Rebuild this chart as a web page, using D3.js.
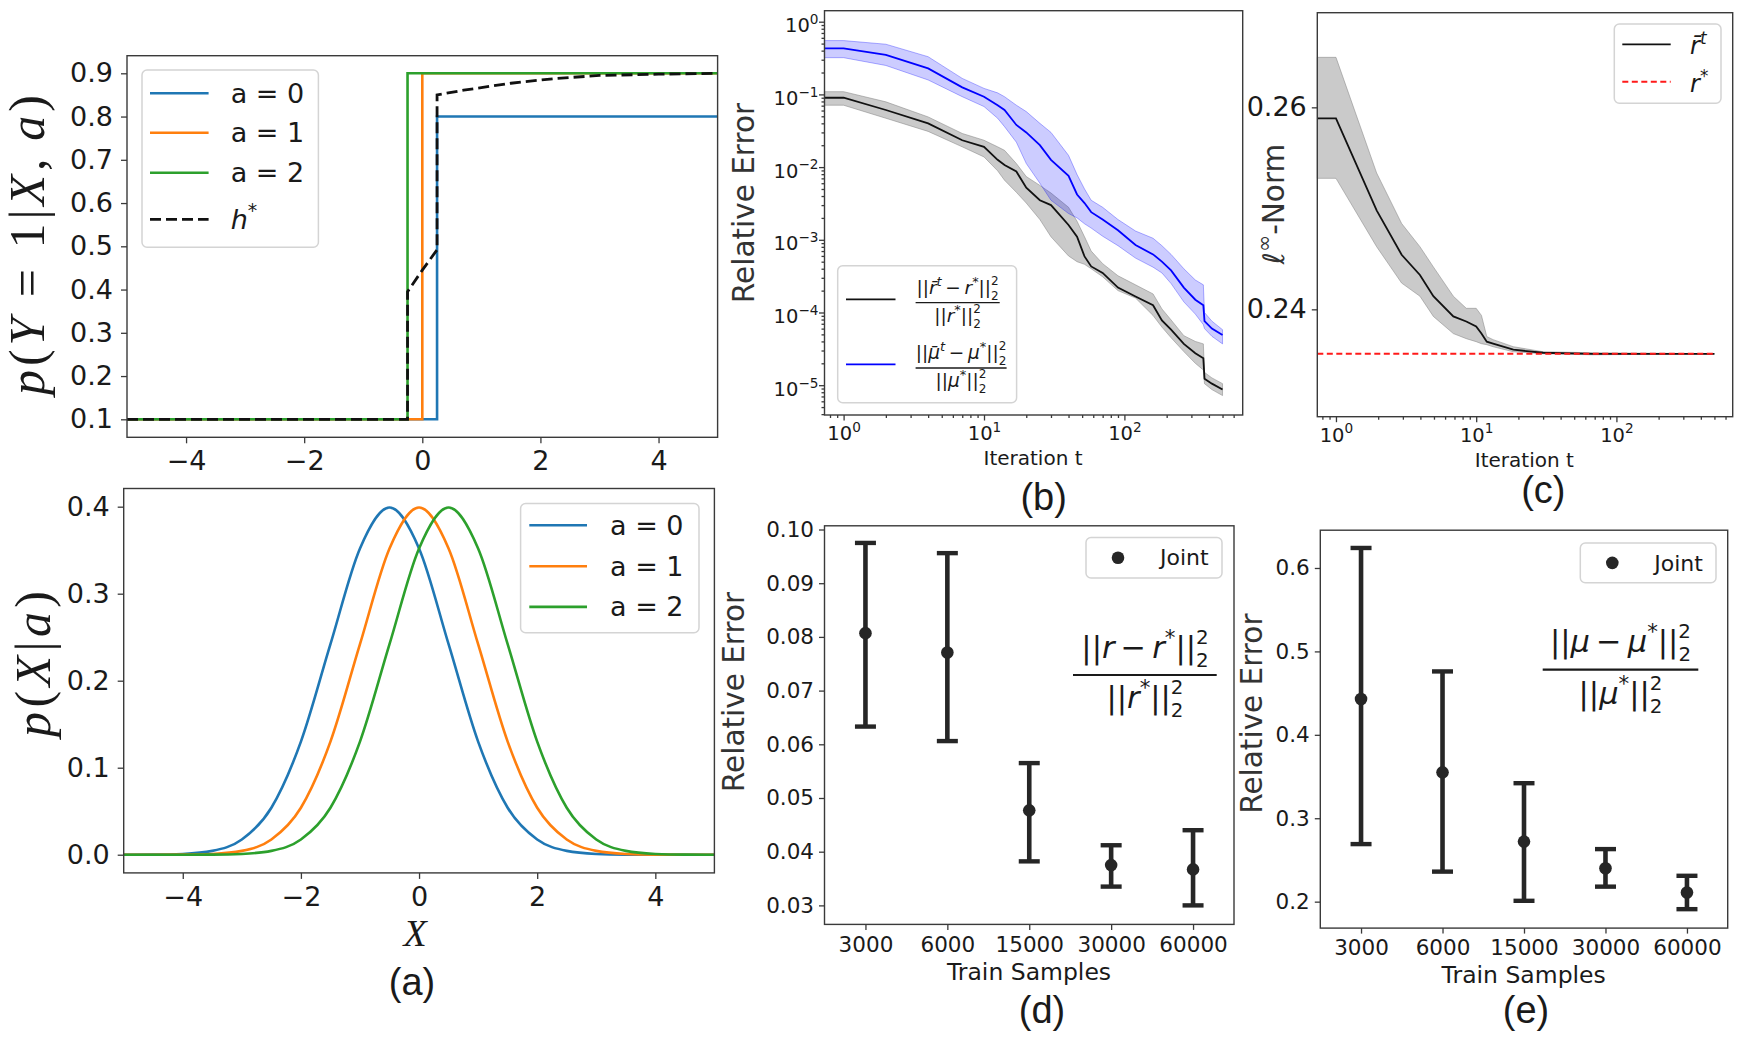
<!DOCTYPE html>
<html>
<head>
<meta charset="utf-8">
<script src="https://cdn.jsdelivr.net/npm/d3@7"></script>
<style>body{margin:0;background:#fff}</style>
</head>
<body>
<svg id="fig" width="1741" height="1052"></svg>
<script>
// ---- data ----
// (a) top: conditional p(Y=1|X,a) per group, and h*
var condA0 = [[-5, 0.1], [0.25, 0.1], [0.25, 0.8], [5, 0.8]];
var condA1 = [[-5, 0.1], [0, 0.1], [0, 0.9], [5, 0.9]];
var condA2 = [[-5, 0.1], [-0.25, 0.1], [-0.25, 0.9], [5, 0.9]];
var hStar = [[-5, 0.1], [-0.25, 0.1], [-0.25, 0.395], [0, 0.445], [0.25, 0.492], [0.25, 0.85],
             [0.7, 0.861], [1.5, 0.877], [2.25, 0.888], [3, 0.895], [4, 0.898], [5, 0.9]];

// (a) bottom: p(X|a)
var gaussX = [-5, -4.5, -4, -3.5, -3, -2.5, -2, -1.5, -1, -0.5, 0, 0.5, 1, 1.5, 2, 2.5, 3, 3.5, 4, 4.5, 5];
var densA0 = [0, 0.0001, 0.0009, 0.0044, 0.0175, 0.054, 0.130, 0.242, 0.352, 0.399, 0.352, 0.242, 0.130, 0.054, 0.0175, 0.0044, 0.0009, 0.0001, 0, 0, 0];
var densA1 = [0, 0, 0.0001, 0.0009, 0.0044, 0.0175, 0.054, 0.130, 0.242, 0.352, 0.399, 0.352, 0.242, 0.130, 0.054, 0.0175, 0.0044, 0.0009, 0.0001, 0, 0];
var densA2 = [0, 0, 0, 0.0001, 0.0009, 0.0044, 0.0175, 0.054, 0.130, 0.242, 0.352, 0.399, 0.352, 0.242, 0.130, 0.054, 0.0175, 0.0044, 0.0009, 0.0001, 0];

// (b) relative error vs iteration
var iterB = [0.73, 1, 2, 4, 7, 10, 12.5, 14, 17, 20, 25, 30, 40, 46, 52, 58, 70, 90, 120, 160, 185, 215, 265, 320, 365, 372, 420, 500];
var rErr = [0.09, 0.09, 0.061, 0.040, 0.0234, 0.019, 0.0126, 0.0107, 0.0087, 0.0052, 0.0035, 0.0030, 0.0016, 0.0011, 0.00059, 0.00043, 0.00035, 0.00022, 0.000166, 0.000126, 0.000078, 0.000058, 0.000037, 0.0000275, 0.0000234, 0.0000123, 0.0000105, 0.0000087];
var rErrHi = [0.109, 0.109, 0.079, 0.049, 0.029, 0.0234, 0.019, 0.017, 0.0112, 0.0074, 0.0056, 0.0044, 0.0028, 0.0018, 0.0011, 0.0007, 0.00047, 0.00032, 0.00024, 0.00018, 0.000112, 0.000079, 0.000048, 0.00004, 0.000037, 0.000015, 0.0000126, 0.0000105];
var rErrLo = [0.071, 0.071, 0.047, 0.031, 0.019, 0.0138, 0.0089, 0.0066, 0.0045, 0.0032, 0.0019, 0.0011, 0.0006, 0.0005, 0.00046, 0.0004, 0.00031, 0.0002, 0.000158, 0.000091, 0.000063, 0.000045, 0.000029, 0.00002, 0.0000162, 0.0000105, 0.0000087, 0.0000072];
var muErr = [0.43, 0.43, 0.35, 0.228, 0.125, 0.093, 0.071, 0.061, 0.038, 0.030, 0.020, 0.0126, 0.0076, 0.0042, 0.0032, 0.0024, 0.0019, 0.00135, 0.00085, 0.00063, 0.0005, 0.00038, 0.00022, 0.00015, 0.000126, 0.000076, 0.00006, 0.000049];
var muErrHi = [0.55, 0.55, 0.49, 0.33, 0.166, 0.121, 0.105, 0.093, 0.071, 0.058, 0.040, 0.030, 0.0145, 0.0079, 0.0050, 0.0035, 0.0028, 0.0019, 0.00132, 0.00105, 0.00083, 0.00063, 0.0004, 0.00028, 0.00024, 0.0001, 0.000076, 0.000058];
var muErrLo = [0.32, 0.32, 0.25, 0.158, 0.093, 0.068, 0.047, 0.036, 0.022, 0.0112, 0.006, 0.0035, 0.0023, 0.002, 0.00166, 0.00145, 0.00112, 0.00083, 0.00056, 0.00042, 0.00035, 0.00025, 0.00014, 0.000095, 0.000068, 0.00006, 0.000047, 0.000037];

// (c) l-inf norm vs iteration
var iterC = [0.736, 1, 1.95, 2.94, 3.97, 4.95, 6.87, 8.5, 10, 10.9, 11.9, 13.2, 18.4, 30, 68, 500];
var rNorm = [0.2589, 0.2589, 0.2498, 0.2454, 0.2434, 0.2413, 0.2393, 0.2388, 0.2383, 0.2376, 0.2368, 0.2366, 0.2360, 0.2357, 0.2356, 0.2356];
var rNormHi = [0.26495, 0.26495, 0.2535, 0.2485, 0.2462, 0.2442, 0.2413, 0.2401, 0.2401, 0.2394, 0.2373, 0.2370, 0.2363, 0.2358, 0.2357, 0.2356];
var rNormLo = [0.25297, 0.25297, 0.2462, 0.2426, 0.2413, 0.2393, 0.2376, 0.2371, 0.2368, 0.2366, 0.2365, 0.2363, 0.2358, 0.2356, 0.2355, 0.2356];
var rStar = 0.23561;

// (d), (e) error bars vs training samples
var trainSamples = ["3000", "6000", "15000", "30000", "60000"];
var errR = [0.0807, 0.0771, 0.0477, 0.0375, 0.0367];
var errRLo = [0.0633, 0.0606, 0.0382, 0.0335, 0.0300];
var errRHi = [0.0975, 0.0956, 0.0565, 0.0412, 0.0440];
var errMu = [0.443, 0.355, 0.272, 0.240, 0.211];
var errMuLo = [0.269, 0.236, 0.201, 0.218, 0.191];
var errMuHi = [0.624, 0.476, 0.342, 0.263, 0.231];

// tick values
var ticksX_a = [-4, -2, 0, 2, 4];
var ticksY_a1 = [0.1, 0.2, 0.3, 0.4, 0.5, 0.6, 0.7, 0.8, 0.9];
var ticksY_a2 = [0.0, 0.1, 0.2, 0.3, 0.4];
var ticksLogX = [1, 10, 100];
var ticksLogY = [1, 1e-1, 1e-2, 1e-3, 1e-4, 1e-5];
var ticksY_c = [0.24, 0.26];
var ticksY_d = [0.03, 0.04, 0.05, 0.06, 0.07, 0.08, 0.09, 0.10];
var ticksY_e = [0.2, 0.3, 0.4, 0.5, 0.6];

// ---- layout ----
var SANS = "DejaVu Sans, sans-serif",
    SERIF = "Liberation Serif, serif",
    ARIAL = "Liberation Sans, Arial, sans-serif",
    AX = "#3a3a3a",
    INK = "#1a1a1a";
var C0 = "#1f77b4", C1 = "#ff7f0e", C2 = "#2ca02c";

var boxA1 = {l: 127, r: 717.6, t: 55.7, b: 437.3},
    boxA2 = {l: 123.7, r: 714.4, t: 488.5, b: 872.9},
    boxB = {l: 824.5, r: 1242.7, t: 10.7, b: 415},
    boxC = {l: 1317.3, r: 1732.7, t: 12.7, b: 416.7},
    boxD = {l: 824.5, r: 1234, t: 525.8, b: 924.4},
    boxE = {l: 1320.3, r: 1727.7, t: 530.2, b: 928.1};

var svg = d3.select("#fig");

// ---- helpers ----
// tiny mathtext: plain / italic runs, superscripts, stacked sup+sub
function mathRun(t, segs, size) {
  var cur = 0;
  segs.forEach(function(sg) {
    var parts;
    if (sg.ss) parts = [{t: sg.ss[0], off: -0.47, fs: 0.65}, {t: sg.ss[1], off: 0.3, fs: 0.65, back: true}];
    else if (sg.sup !== undefined) parts = [{t: sg.sup, off: -0.42, fs: 0.7, it: sg.i}];
    else parts = [{t: sg.s, off: 0, fs: 1, it: sg.i}];
    parts.forEach(function(p) {
      var ts = t.append("tspan").text(p.t).attr("font-size", size * p.fs);
      if (p.off !== cur) ts.attr("dy", (p.off - cur) * size);
      if (p.back) ts.attr("dx", -0.636 * 0.65 * size);
      if (p.it) ts.attr("font-style", "italic");
      cur = p.off;
    });
  });
}

function drawBox(g, b) {
  g.append("rect")
    .attr("x", b.l).attr("y", b.t)
    .attr("width", b.r - b.l).attr("height", b.b - b.t)
    .attr("fill", "none").attr("stroke", AX).attr("stroke-width", 1.4);
}

function styleAxis(sel, size) {
  sel.attr("font-family", SANS).attr("font-size", size);
  sel.select(".domain").remove();
  sel.selectAll(".tick line").attr("stroke", AX).attr("stroke-width", 1.3);
  sel.selectAll(".tick text").attr("fill", INK);
}

function text(g, x, y, str, size, family, opts) {
  opts = opts || {};
  var t = g.append("text")
    .attr("transform", "translate(" + x + "," + y + ")" + (opts.rot ? " rotate(-90)" : ""))
    .attr("text-anchor", opts.anchor || "middle")
    .attr("dy", "0.35em")
    .attr("font-family", family).attr("font-size", size)
    .attr("fill", opts.fill || INK);
  if (opts.segs) mathRun(t, opts.segs, size); else t.text(str);
  if (opts.len) t.attr("textLength", opts.len).attr("lengthAdjust", "spacing");
  return t;
}

function legendBox(g, x0, y0, x1, y1) {
  g.append("rect").attr("x", x0).attr("y", y0).attr("width", x1 - x0).attr("height", y1 - y0)
    .attr("rx", 5).attr("fill", "#fff").attr("fill-opacity", 0.85)
    .attr("stroke", "#d4d4d4").attr("stroke-width", 1.5);
}

function expLabel(d) {
  var e = Math.round(Math.log10(d));
  return (e < 0 ? "\u2212" : "") + Math.abs(e);
}

function minorLog(domain) {
  var out = [];
  var lo = Math.floor(Math.log10(domain[0])), hi = Math.ceil(Math.log10(domain[1]));
  for (var e = lo; e <= hi; e++)
    for (var k = 2; k <= 9; k++) {
      var v = k * Math.pow(10, e);
      if (v >= domain[0] && v <= domain[1]) out.push(v);
    }
  return out;
}

function logBottomAxis(g, x, b) {
  var d = x.domain();
  g.append("g").attr("transform", "translate(0," + b.b + ")")
    .call(d3.axisBottom(x).tickValues(minorLog(d)).tickSize(3).tickFormat(""))
    .call(styleAxis, 18);
  var ax = g.append("g").attr("transform", "translate(0," + b.b + ")")
    .call(d3.axisBottom(x).tickValues(ticksLogX).tickSize(5.5).tickFormat(""))
    .call(styleAxis, 19.5);
  ax.selectAll(".tick text").each(function(v) {
    var t = d3.select(this).attr("y", 25).attr("dy", null);
    mathRun(t, [{s: "10"}, {sup: expLabel(v)}], 19.5);
  });
}

function fraction(g, cx, barY, x0, x1, num, den, size, numBase, denBase) {
  g.append("line").attr("x1", x0).attr("x2", x1).attr("y1", barY).attr("y2", barY)
    .attr("stroke", INK).attr("stroke-width", size / 14);
  [[num, numBase], [den, denBase]].forEach(function(p) {
    var t = g.append("text").attr("x", cx).attr("y", p[1]).attr("text-anchor", "middle")
      .attr("font-family", SANS).attr("font-size", size).attr("fill", INK);
    mathRun(t, p[0], size);
  });
}
var normSq = {ss: ["2", "2"]};

// ---------------- (a) top ----------------
var xA1 = d3.scaleLinear().domain([-5, 5]).range([boxA1.l, boxA1.r]);
var yA1 = d3.scaleLinear().domain([0.0584, 0.9407]).range([boxA1.b, boxA1.t]);
var gA1 = svg.append("g");
var lineA1 = d3.line().x(function(d) { return xA1(d[0]); }).y(function(d) { return yA1(d[1]); });
[[condA0, C0], [condA1, C1], [condA2, C2]].forEach(function(s) {
  gA1.append("path").attr("d", lineA1(s[0])).attr("fill", "none")
    .attr("stroke", s[1]).attr("stroke-width", 2.6);
});
gA1.append("path").attr("d", lineA1(hStar)).attr("fill", "none")
  .attr("stroke", "#111").attr("stroke-width", 2.8).attr("stroke-dasharray", "11,5");
drawBox(gA1, boxA1);
gA1.append("g").attr("transform", "translate(0," + boxA1.b + ")")
  .call(d3.axisBottom(xA1).tickValues(ticksX_a).tickSize(6).tickPadding(8).tickFormat(d3.format("d")))
  .call(styleAxis, 27);
gA1.append("g").attr("transform", "translate(" + boxA1.l + ",0)")
  .call(d3.axisLeft(yA1).tickValues(ticksY_a1).tickSize(6).tickPadding(8).tickFormat(d3.format(".1f")))
  .call(styleAxis, 27);
text(gA1, 26.5, 245, null, 50, SERIF, {rot: true, len: 300, segs: [
  {s: "p", i: true}, {s: "("}, {s: "Y", i: true}, {s: "\u00a0=\u00a0"}, {s: "1|"},
  {s: "X", i: true}, {s: ",\u2009"}, {s: "a", i: true}, {s: ")"}]});
legendBox(gA1, 142, 70, 318.4, 247.3);
[["a = 0", C0, 93.3], ["a = 1", C1, 132.7], ["a = 2", C2, 172.7]].forEach(function(e) {
  gA1.append("line").attr("x1", 150).attr("x2", 208.6).attr("y1", e[2]).attr("y2", e[2])
    .attr("stroke", e[1]).attr("stroke-width", 2.6);
  text(gA1, 230.7, e[2], e[0], 27, SANS, {anchor: "start"});
});
gA1.append("line").attr("x1", 150).attr("x2", 208.6).attr("y1", 219.3).attr("y2", 219.3)
  .attr("stroke", "#111").attr("stroke-width", 2.8).attr("stroke-dasharray", "11,5");
text(gA1, 230.7, 219.3, null, 27, SANS, {anchor: "start", segs: [{s: "h", i: true}, {sup: "*"}]});

// ---------------- (a) bottom ----------------
var xA2 = d3.scaleLinear().domain([-5, 5]).range([boxA2.l, boxA2.r]);
var yA2 = d3.scaleLinear().domain([-0.0209, 0.4209]).range([boxA2.b, boxA2.t]);
var gA2 = svg.append("g");
var lineA2 = d3.line().curve(d3.curveMonotoneX)
  .x(function(d, i) { return xA2(gaussX[i]); }).y(function(d) { return yA2(d); });
[[densA0, C0], [densA1, C1], [densA2, C2]].forEach(function(s) {
  gA2.append("path").attr("d", lineA2(s[0])).attr("fill", "none")
    .attr("stroke", s[1]).attr("stroke-width", 2.6);
});
drawBox(gA2, boxA2);
gA2.append("g").attr("transform", "translate(0," + boxA2.b + ")")
  .call(d3.axisBottom(xA2).tickValues(ticksX_a).tickSize(6).tickPadding(8).tickFormat(d3.format("d")))
  .call(styleAxis, 27);
gA2.append("g").attr("transform", "translate(" + boxA2.l + ",0)")
  .call(d3.axisLeft(yA2).tickValues(ticksY_a2).tickSize(6).tickPadding(8).tickFormat(d3.format(".1f")))
  .call(styleAxis, 27);
text(gA2, 32, 664, null, 50, SERIF, {rot: true, len: 146, segs: [
  {s: "p", i: true}, {s: "("}, {s: "X", i: true}, {s: "|"}, {s: "a", i: true}, {s: ")"}]});
text(gA2, 415, 933, null, 38, SERIF, {segs: [{s: "X", i: true}]});
text(gA2, 412, 982, "(a)", 38, ARIAL);
legendBox(gA2, 520.6, 503.6, 699, 632.7);
[["a = 0", C0, 525.3], ["a = 1", C1, 566.3], ["a = 2", C2, 606.9]].forEach(function(e) {
  gA2.append("line").attr("x1", 529.3).attr("x2", 587).attr("y1", e[2]).attr("y2", e[2])
    .attr("stroke", e[1]).attr("stroke-width", 2.6);
  text(gA2, 610, e[2], e[0], 27, SANS, {anchor: "start"});
});

// ---------------- (b) ----------------
var xB = d3.scaleLog().domain([0.731, 696]).range([boxB.l, boxB.r]);
var yB = d3.scaleLog().domain([3.89e-6, 1.417]).range([boxB.b, boxB.t]);
var gB = svg.append("g");
function bandB(lo, hi) {
  return d3.area().x(function(d, i) { return xB(iterB[i]); })
    .y0(function(d, i) { return yB(lo[i]); }).y1(function(d, i) { return yB(hi[i]); })(iterB);
}
var lineB = d3.line().x(function(d, i) { return xB(iterB[i]); }).y(function(d) { return yB(d); });
gB.append("path").attr("d", bandB(rErrLo, rErrHi)).attr("fill", "#808080").attr("fill-opacity", 0.42)
  .attr("stroke", "#808080").attr("stroke-opacity", 0.5).attr("stroke-width", 1);
gB.append("path").attr("d", bandB(muErrLo, muErrHi)).attr("fill", "#0000ff").attr("fill-opacity", 0.2)
  .attr("stroke", "#0000ff").attr("stroke-opacity", 0.3).attr("stroke-width", 1);
gB.append("path").attr("d", lineB(rErr)).attr("fill", "none").attr("stroke", "#111").attr("stroke-width", 1.8);
gB.append("path").attr("d", lineB(muErr)).attr("fill", "none").attr("stroke", "#0000ff").attr("stroke-width", 1.8);
drawBox(gB, boxB);
logBottomAxis(gB, xB, boxB);
gB.append("g").attr("transform", "translate(" + boxB.l + ",0)")
  .call(d3.axisLeft(yB).tickValues(minorLog(yB.domain())).tickSize(3).tickFormat(""))
  .call(styleAxis, 18);
var yAxB = gB.append("g").attr("transform", "translate(" + boxB.l + ",0)")
  .call(d3.axisLeft(yB).tickValues(ticksLogY).tickSize(5.5).tickFormat(""))
  .call(styleAxis, 19.5);
yAxB.selectAll(".tick text").each(function(v) {
  var t = d3.select(this).attr("x", -6).attr("y", 10).attr("dy", null);
  mathRun(t, [{s: "10"}, {sup: expLabel(v)}], 19.5);
});
text(gB, 744, 203, "Relative Error", 29.5, SANS, {rot: true, fill: "#333"});
text(gB, 1033, 458, "Iteration t", 20, SANS);
text(gB, 1043.6, 497, "(b)", 38, ARIAL);
legendBox(gB, 837.7, 265.7, 1016.6, 402.7);
gB.append("line").attr("x1", 846).attr("x2", 895.5).attr("y1", 299.3).attr("y2", 299.3)
  .attr("stroke", "#111").attr("stroke-width", 1.8);
gB.append("line").attr("x1", 846).attr("x2", 895.5).attr("y1", 364.3).attr("y2", 364.3)
  .attr("stroke", "#0000ff").attr("stroke-width", 1.8);
fraction(gB, 957.6, 302.7, 915.6, 999.7,
  [{s: "||"}, {s: "r\u0304", i: true}, {sup: "t", i: true}, {s: "\u2009\u2212\u2009"}, {s: "r", i: true}, {sup: "*"}, {s: "||"}, normSq],
  [{s: "||"}, {s: "r", i: true}, {sup: "*"}, {s: "||"}, normSq], 18.5, 294, 322);
fraction(gB, 961, 368, 915.6, 1006.6,
  [{s: "||"}, {s: "\u03bc\u0304", i: true}, {sup: "t", i: true}, {s: "\u2009\u2212\u2009"}, {s: "\u03bc", i: true}, {sup: "*"}, {s: "||"}, normSq],
  [{s: "||"}, {s: "\u03bc", i: true}, {sup: "*"}, {s: "||"}, normSq], 18.5, 359, 387);

// ---------------- (c) ----------------
var xC = d3.scaleLog().domain([0.736, 675]).range([boxC.l, boxC.r]);
var yC = d3.scaleLinear().domain([0.22937, 0.26937]).range([boxC.b, boxC.t]);
var gC = svg.append("g");
gC.append("path")
  .attr("d", d3.area().x(function(d, i) { return xC(iterC[i]); })
    .y0(function(d, i) { return yC(rNormLo[i]); }).y1(function(d, i) { return yC(rNormHi[i]); })(iterC))
  .attr("fill", "#808080").attr("fill-opacity", 0.42)
  .attr("stroke", "#808080").attr("stroke-opacity", 0.5).attr("stroke-width", 1);
gC.append("path")
  .attr("d", d3.line().x(function(d, i) { return xC(iterC[i]); }).y(function(d) { return yC(d); })(rNorm))
  .attr("fill", "none").attr("stroke", "#111").attr("stroke-width", 1.8);
gC.append("line").attr("x1", xC(iterC[0])).attr("x2", xC(500)).attr("y1", yC(rStar)).attr("y2", yC(rStar))
  .attr("stroke", "#ff1a1a").attr("stroke-width", 2).attr("stroke-dasharray", "6,3.5");
drawBox(gC, boxC);
logBottomAxis(gC, xC, boxC);
gC.append("g").attr("transform", "translate(" + boxC.l + ",0)")
  .call(d3.axisLeft(yC).tickValues(ticksY_c).tickSize(5.5).tickPadding(5).tickFormat(d3.format(".2f")))
  .call(styleAxis, 27);
text(gC, 1273.3, 204, null, 29.5, SANS, {rot: true, fill: "#333", segs: [{s: "\u2113", i: true}, {sup: "\u221e"}, {s: "-Norm"}]});
text(gC, 1524.3, 460, "Iteration t", 20, SANS);
text(gC, 1543.3, 490, "(c)", 38, ARIAL);
legendBox(gC, 1614.3, 24, 1721, 103.3);
gC.append("line").attr("x1", 1622.3).attr("x2", 1670.7).attr("y1", 44.3).attr("y2", 44.3)
  .attr("stroke", "#111").attr("stroke-width", 1.8);
gC.append("line").attr("x1", 1622.3).attr("x2", 1670.7).attr("y1", 81.7).attr("y2", 81.7)
  .attr("stroke", "#ff1a1a").attr("stroke-width", 2).attr("stroke-dasharray", "6,3.5");
text(gC, 1690, 46, null, 24, SANS, {anchor: "start", segs: [{s: "r\u0304", i: true}, {sup: "t", i: true}]});
text(gC, 1690, 84, null, 24, SANS, {anchor: "start", segs: [{s: "r", i: true}, {sup: "*"}]});

// ---------------- (d) & (e) ----------------
function errorPanel(b, yDomain, yTicks, yFmt, mean, lo, hi, cfg) {
  var x = d3.scalePoint().domain(trainSamples).range([b.l, b.r]).padding(0.5);
  var y = d3.scaleLinear().domain(yDomain).range([b.b, b.t]);
  var g = svg.append("g");
  var col = "#262626";
  trainSamples.forEach(function(c, i) {
    var cx = x(c);
    g.append("line").attr("x1", cx).attr("x2", cx).attr("y1", y(lo[i])).attr("y2", y(hi[i]))
      .attr("stroke", col).attr("stroke-width", 4.6);
    [lo[i], hi[i]].forEach(function(v) {
      g.append("line").attr("x1", cx - 10.5).attr("x2", cx + 10.5).attr("y1", y(v)).attr("y2", y(v))
        .attr("stroke", col).attr("stroke-width", 4.4);
    });
    g.append("circle").attr("cx", cx).attr("cy", y(mean[i])).attr("r", 6.3).attr("fill", col);
  });
  drawBox(g, b);
  g.append("g").attr("transform", "translate(0," + b.b + ")")
    .call(d3.axisBottom(x).tickSize(5.5).tickPadding(6.5))
    .call(styleAxis, 21.5);
  g.append("g").attr("transform", "translate(" + b.l + ",0)")
    .call(d3.axisLeft(y).tickValues(yTicks).tickSize(5.5).tickPadding(5).tickFormat(d3.format(yFmt)))
    .call(styleAxis, 21.5);
  text(g, cfg.yl[0], cfg.yl[1], "Relative Error", 29.5, SANS, {rot: true, fill: "#333"});
  text(g, cfg.xl[0], cfg.xl[1], "Train Samples", 23.5, SANS);
  text(g, cfg.tag[0], cfg.tag[1], cfg.tagText, 38, ARIAL);
  legendBox(g, cfg.leg[0], cfg.leg[1], cfg.leg[2], cfg.leg[3]);
  var ly = (cfg.leg[1] + cfg.leg[3]) / 2;
  g.append("circle").attr("cx", cfg.leg[0] + 32).attr("cy", ly).attr("r", 6.3).attr("fill", col);
  text(g, cfg.leg[0] + 74, ly, "Joint", 22, SANS, {anchor: "start"});
  fraction(g, cfg.fr[0], cfg.fr[1], cfg.fr[2], cfg.fr[3], cfg.num, cfg.den, 30.5, cfg.fr[4], cfg.fr[5]);
}

errorPanel(boxD, [0.02646, 0.10069], ticksY_d, ".2f", errR, errRLo, errRHi, {
  yl: [733.8, 692], xl: [1029, 971.4], tag: [1042, 1010], tagText: "(d)",
  leg: [1086, 537.6, 1222, 577.9],
  fr: [1145, 675, 1073, 1216.7, 658, 708],
  num: [{s: "||"}, {s: "r", i: true}, {s: "\u2009\u2212\u2009"}, {s: "r", i: true}, {sup: "*"}, {s: "||"}, normSq],
  den: [{s: "||"}, {s: "r", i: true}, {sup: "*"}, {s: "||"}, normSq]
});
errorPanel(boxE, [0.1683, 0.6453], ticksY_e, ".1f", errMu, errMuLo, errMuHi, {
  yl: [1252, 713.6], xl: [1523.7, 975], tag: [1526, 1010], tagText: "(e)",
  leg: [1580.3, 543, 1716, 582.7],
  fr: [1620.5, 669.6, 1542.7, 1698.3, 652, 704],
  num: [{s: "||"}, {s: "\u03bc", i: true}, {s: "\u2009\u2212\u2009"}, {s: "\u03bc", i: true}, {sup: "*"}, {s: "||"}, normSq],
  den: [{s: "||"}, {s: "\u03bc", i: true}, {sup: "*"}, {s: "||"}, normSq]
});
</script>
</body>
</html>
